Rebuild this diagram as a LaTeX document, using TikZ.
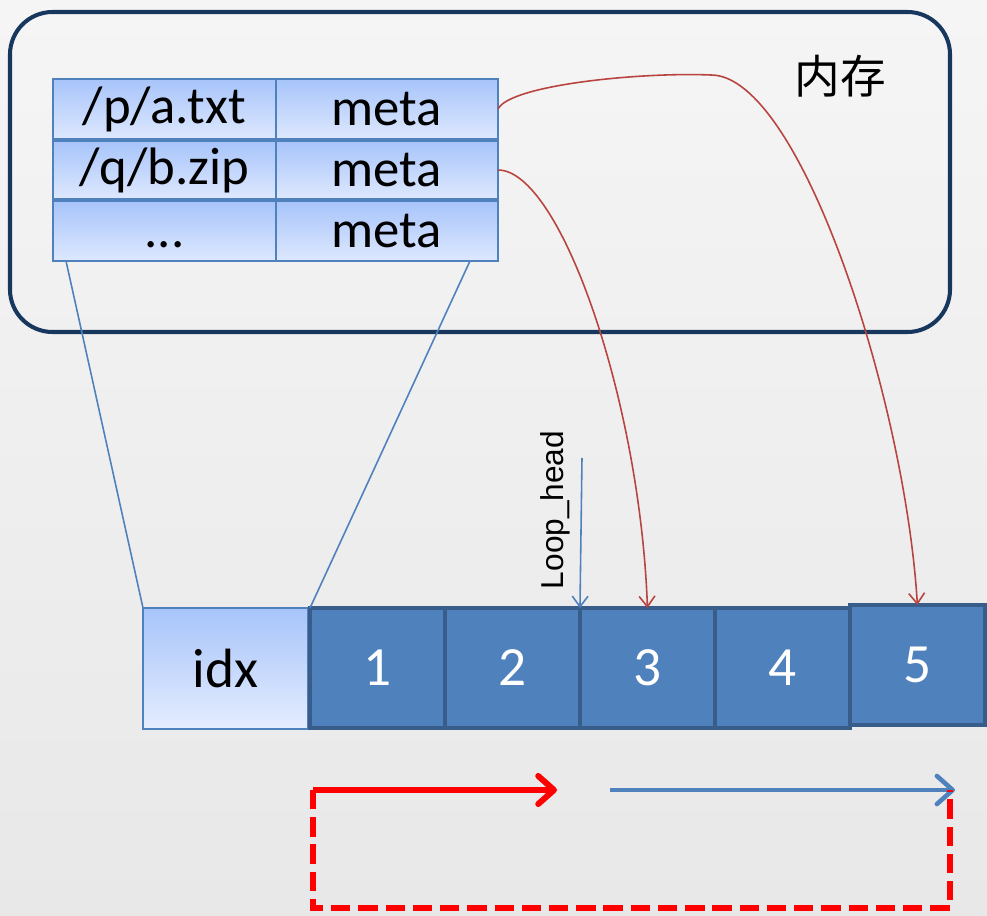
\documentclass[tikz,border=0pt]{standalone}
\usepackage{fontspec}
\setmainfont{Carlito}
\newfontfamily\cjkfont{Noto Sans CJK SC}
\newfontfamily\arialfont{Liberation Sans}
\usetikzlibrary{positioning,arrows.meta}

\definecolor{cellblue}{HTML}{4F81BD}
\definecolor{cellline}{HTML}{385D8A}
\definecolor{lighttop}{HTML}{A7C4FA}
\definecolor{lightbot}{HTML}{DEE8FE}
\definecolor{navy}{HTML}{17375E}
\definecolor{linkred}{HTML}{B8443F}
\definecolor{bgtop}{HTML}{F5F5F5}
\definecolor{bgbot}{HTML}{E8E8E8}

\begin{document}
\begin{tikzpicture}[x=0.02cm, y=-0.02cm,
    cell/.style={draw=cellblue, line width=0.8pt, top color=lighttop, bottom color=lightbot,
        inner sep=0pt, outer sep=0pt, minimum height=1.2cm, font=\fontsize{30}{32}\selectfont},
    slot/.style={draw=cellline, line width=2.5pt, fill=cellblue, text=white,
        minimum width=2.7cm, minimum height=2.4cm, inner sep=0pt, outer sep=0pt,
        font=\fontsize{31.5}{33}\selectfont},
    link/.style={linkred, line width=0.9pt, -{Straight Barb[length=6pt,width=9pt]}},
    fan/.style={cellblue, line width=0.9pt}]

    % Background
    \fill[top color=bgtop, bottom color=bgbot] (0,0) rectangle (987,916);
    \useasboundingbox (0,0) rectangle (987,916);

    % Memory
    \draw[navy, line width=2.3pt, rounded corners=0.85cm] (10,12) rectangle (950,332);
    \node[font=\cjkfont\fontsize{26}{28}\selectfont] (mem) at (840,76) {内存};

    % Table
    \node[cell, minimum width=4.46cm] (pa) at (164.5,109) {/p/a.txt};
    \node[cell, minimum width=4.44cm] (pam) at (387,109) {meta};
    \node[cell, minimum width=4.46cm, minimum height=1.16cm] (qb) at (164.5,170) {/q/b.zip};
    \node[cell, minimum width=4.44cm, minimum height=1.16cm] (qbm) at (387,170) {meta};
    \node[cell, minimum width=4.46cm] (dots) at (164.5,231) {\vphantom{meta}...};
    \node[cell, minimum width=4.44cm] (dm) at (387,231) {meta};

    % File blocks
    \node[cell, minimum width=3.3cm, minimum height=2.42cm, bottom color=lightbot!80!white,
        font=\fontsize{31.5}{33}\selectfont] (idx) at (225.5,668.5) {idx};
    \node[slot] (s1) at (377.5,668) {1};
    \node[slot, right=0pt of s1] (s2) {2};
    \node[slot, right=0pt of s2] (s3) {3};
    \node[slot, right=0pt of s3] (s4) {4};
    \node[slot, right=0pt of s4, yshift=0.06cm] (s5) {5};

    \draw[fan] ([xshift=0.26cm]dots.south west) -- (idx.north west);
    \draw[fan] ([xshift=-0.56cm]dm.south east) -- (s1.north west);

    % Loop head
    \coordinate (headtop) at (582,458);
    \draw[cellblue, line width=0.9pt, -{Straight Barb[length=6pt,width=9pt]}] (headtop) -- (s3.north west);
    \node[rotate=90, font=\arialfont\fontsize{18}{20}\selectfont] (headtxt) at (555,510) {Loop\_head};

    % Links
    \draw[link] (pam.east) .. controls (510,85) and (640,72) .. (711,75)
        .. controls (800,75) and (905,400) .. (s5.north);
    \draw[link] (qbm.east) .. controls (560,170) and (640,400) .. (s3.north);

    % Write order
    \coordinate (runstart) at (313,790);
    \coordinate (runend) at (557,790);
    \coordinate (wrapstart) at (610,790);
    \coordinate (wrapend) at (955,790);
    \coordinate (loopfloor) at (950,908);
    \draw[red, line width=3.4pt, -{Straight Barb[length=9pt,width=16pt,round]}] (runstart) -- (runend);
    \draw[cellblue, line width=2.6pt, -{Straight Barb[length=9pt,width=16pt,round]}] (wrapstart) -- (wrapend);
    \draw[red, line width=3.4pt, dash pattern=on 11pt off 4.5pt]
        (runstart) -- (runstart |- loopfloor) -- (loopfloor) -- (loopfloor |- runstart);
\end{tikzpicture}
\end{document}
